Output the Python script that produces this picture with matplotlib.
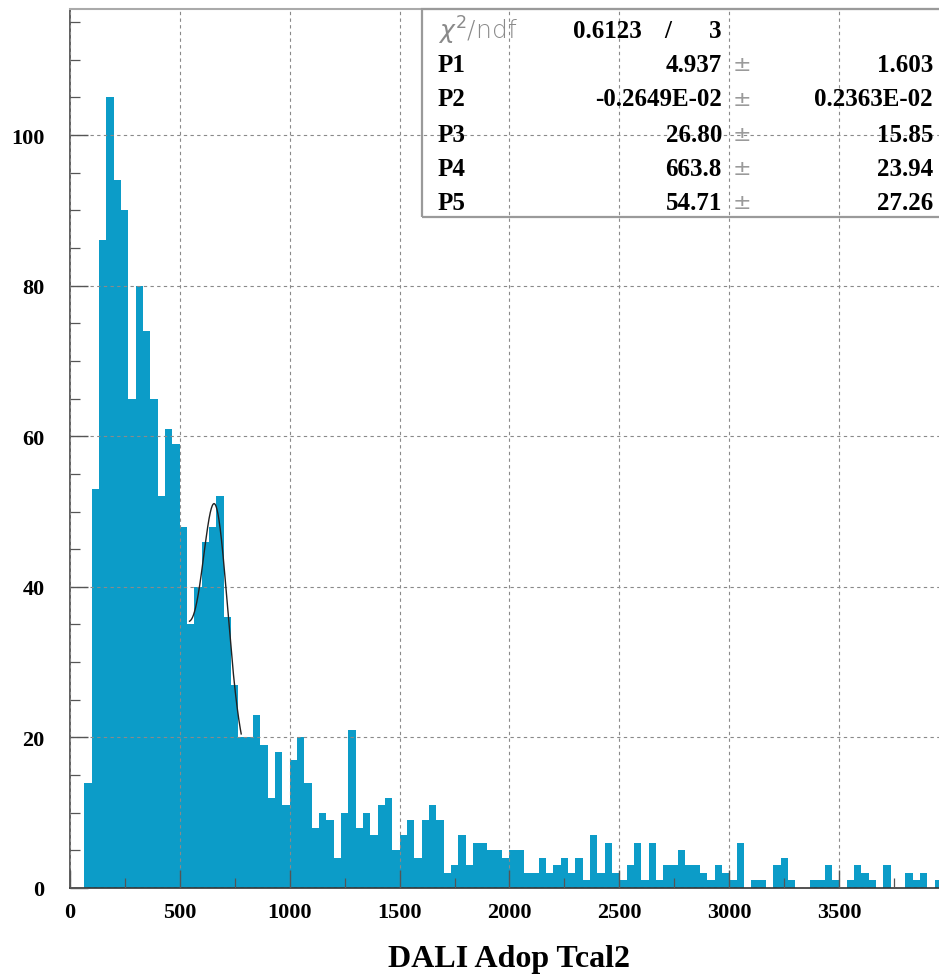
import numpy as np
import matplotlib
matplotlib.use("Agg")
import matplotlib.pyplot as plt
from matplotlib.patches import Rectangle
from matplotlib.ticker import MultipleLocator

# ---------------- data ----------------
bin_low, bin_high, n_bins = 0.0, 4000.0, 120
counts = [0, 0, 14, 53, 86, 105, 94, 90, 65, 80,
          74, 65, 52, 61, 59, 48, 35, 40, 46, 48,
          52, 36, 27, 20, 20, 23, 19, 12, 18, 11,
          17, 20, 14, 8, 10, 9, 4, 10, 21, 8,
          10, 7, 11, 12, 5, 7, 9, 4, 9, 11,
          9, 2, 3, 7, 3, 6, 6, 5, 5, 4,
          5, 5, 2, 2, 4, 2, 3, 4, 2, 4,
          1, 7, 2, 6, 2, 1, 3, 6, 1, 6,
          1, 3, 3, 5, 3, 3, 2, 1, 3, 2,
          1, 6, 0, 1, 1, 0, 3, 4, 1, 0,
          0, 1, 1, 3, 1, 0, 1, 3, 2, 1,
          0, 3, 0, 0, 2, 1, 2, 0, 1, 1]

# fit: exp(P1 + P2*x) + P3*gaus(x; P4, P5)
fit_names = ["P1", "P2", "P3", "P4", "P5"]
fit_values = [4.937, -0.2649e-02, 26.80, 663.8, 54.71]
fit_errors = [1.603, 0.2363e-02, 15.85, 23.94, 27.26]
fit_value_text = ["4.937", "-0.2649E-02", "26.80", "663.8", "54.71"]
fit_error_text = ["1.603", "0.2363E-02", "15.85", "23.94", "27.26"]
fit_range = [545.0, 780.0]
chi2_text, ndf_text = "0.6123", "3"

x_label = "DALI Adop Tcal2"
x_ticks = [0, 500, 1000, 1500, 2000, 2500, 3000, 3500]
y_ticks = [0, 20, 40, 60, 80, 100]

# ---------------- figure ----------------
W, H = 939, 978
fig = plt.figure(figsize=(W / 100, H / 100), dpi=100)
ax_left, ax_bottom_px, ax_top_px = 69.7, 889.0, 10.0
ax = fig.add_axes([ax_left / W, 1 - ax_bottom_px / H,
                   1 - ax_left / W, (ax_bottom_px - ax_top_px) / H])

serif = ["Liberation Serif", "DejaVu Serif"]
bar_color = "#0c9cc8"

edges = np.linspace(bin_low, bin_high, n_bins + 1)
ax.stairs(counts, edges, fill=True, color=bar_color, zorder=1, linewidth=0)

# fit curve
xf = np.linspace(fit_range[0], fit_range[1], 300)
p1, p2, p3, p4, p5 = fit_values
yf = np.exp(p1 + p2 * xf) + p3 * np.exp(-0.5 * ((xf - p4) / p5) ** 2)
ax.plot(xf, yf, color="#222222", lw=1.0, zorder=3)

x_max = (W - ax_left) / 0.21989
ax.set_xlim(0, x_max)
ax.set_ylim(0, (ax_bottom_px - ax_top_px) / 7.53)

ax.set_xticks(x_ticks)
ax.set_yticks(y_ticks)
ax.xaxis.set_minor_locator(MultipleLocator(250))
ax.yaxis.set_minor_locator(MultipleLocator(5))
ax.tick_params(axis="both", which="major", direction="in", length=13,
               width=1.0, color="#555555")
ax.tick_params(axis="both", which="minor", direction="in", length=7,
               width=0.9, color="#555555")
ax.tick_params(axis="x", which="both", top=False)
ax.tick_params(axis="y", which="both", right=False)
ax.tick_params(axis="x", pad=10)
ax.tick_params(axis="y", pad=18)
for lab in ax.get_xticklabels() + ax.get_yticklabels():
    lab.set_fontfamily(serif)
    lab.set_fontweight("bold")
    lab.set_fontsize(16)

ax.grid(True, which="major", color="#8a8a8a", linestyle=(0, (3, 3)), lw=0.8, zorder=2)
ax.set_axisbelow(False)

ax.spines["right"].set_visible(False)
ax.spines["top"].set_color("#aaaaaa")
ax.spines["top"].set_linewidth(1.5)
ax.spines["left"].set_color("#444444")
ax.spines["left"].set_linewidth(1.2)
ax.spines["bottom"].set_color("#333333")
ax.spines["bottom"].set_linewidth(1.2)

fig.text(509 / W, 1 - 960 / H, x_label, ha="center", va="center",
         fontfamily=serif, fontweight="bold", fontsize=23)

# ---------------- stats box ----------------
def fx(px):
    return px / W

def fy(py):
    return 1 - py / H

box = Rectangle((fx(422), fy(218)), fx(W + 5) - fx(422), fy(10) - fy(218),
                transform=fig.transFigure, fill=False, edgecolor="#9a9a9a",
                linewidth=1.6, zorder=5)
fig.patches.append(box)

stat_fs = 18
plt.rcParams["mathtext.fontset"] = "dejavusans"
fig.text(fx(438), fy(31), r"$\chi^{2}$/ndf", ha="left", va="center",
         fontsize=18, color="#8a8a8a", fontfamily="DejaVu Sans", fontweight="light")
fig.text(fx(642), fy(31), chi2_text, ha="right", va="center",
         fontfamily=serif, fontweight="bold", fontsize=stat_fs)
fig.text(fx(668), fy(31), "/", ha="center", va="center",
         fontfamily=serif, fontweight="bold", fontsize=stat_fs)
fig.text(fx(715), fy(31), ndf_text, ha="center", va="center",
         fontfamily=serif, fontweight="bold", fontsize=stat_fs)

row_y = [65, 100, 135, 169, 203]
for name, vt, et, ry in zip(fit_names, fit_value_text, fit_error_text, row_y):
    fig.text(fx(438), fy(ry), name, ha="left", va="center",
             fontfamily=serif, fontweight="bold", fontsize=stat_fs)
    fig.text(fx(722), fy(ry), vt, ha="right", va="center",
             fontfamily=serif, fontweight="bold", fontsize=stat_fs)
    fig.text(fx(742), fy(ry), "\u00b1", ha="center", va="center",
             fontfamily="DejaVu Sans", fontsize=16, color="#9a9a9a")
    fig.text(fx(933), fy(ry), et, ha="right", va="center",
             fontfamily=serif, fontweight="bold", fontsize=stat_fs)

fig.savefig("out.png", dpi=100)
